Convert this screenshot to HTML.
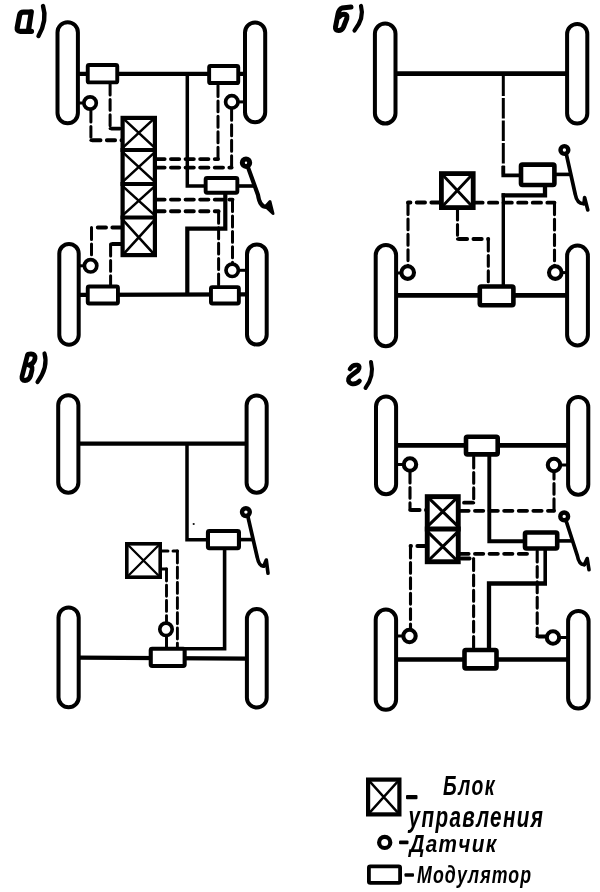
<!DOCTYPE html>
<html><head><meta charset="utf-8"><title>ABS schemes</title>
<style>
html,body{margin:0;padding:0;background:#fff;}
body{width:600px;height:892px;overflow:hidden;font-family:"Liberation Sans",sans-serif;}
svg{display:block;}
text{font-family:"Liberation Sans",sans-serif;font-weight:bold;font-style:italic;fill:#000;}
</style></head><body>
<svg width="600" height="892" viewBox="0 0 600 892">
<defs><filter id="soft" x="0" y="0" width="600" height="892" filterUnits="userSpaceOnUse"><feGaussianBlur stdDeviation="0.45"/></filter></defs>
<rect width="600" height="892" fill="#fff"/>
<g filter="url(#soft)">
<!-- scheme a -->
<path d="M78.00,73.80 L245.00,73.80" fill="none" stroke="#000" stroke-width="4.3" stroke-linejoin="miter" stroke-linecap="butt"/>
<path d="M79.00,294.80 L247.00,294.40" fill="none" stroke="#000" stroke-width="4.3" stroke-linejoin="miter" stroke-linecap="butt"/>
<path d="M187.30,74.00 L187.30,186.00 L206.00,186.00" fill="none" stroke="#000" stroke-width="3.5" stroke-linejoin="miter" stroke-linecap="butt"/>
<path d="M187.30,295.00 L187.30,228.70 L225.30,228.70 L225.30,193.00" fill="none" stroke="#000" stroke-width="4.2" stroke-linejoin="miter" stroke-linecap="butt"/>
<path d="M78.00,103.00 L85.00,103.00" fill="none" stroke="#000" stroke-width="3.0" stroke-linejoin="miter" stroke-linecap="butt"/>
<path d="M79.00,265.80 L85.00,265.80" fill="none" stroke="#000" stroke-width="3.0" stroke-linejoin="miter" stroke-linecap="butt"/>
<path d="M237.00,101.90 L245.00,101.90" fill="none" stroke="#000" stroke-width="3.0" stroke-linejoin="miter" stroke-linecap="butt"/>
<path d="M238.00,270.30 L247.00,270.30" fill="none" stroke="#000" stroke-width="3.0" stroke-linejoin="miter" stroke-linecap="butt"/>
<path d="M90.90,110.00 L90.90,140.30" fill="none" stroke="#000" stroke-width="3.0" stroke-linecap="round" stroke-dasharray="10.90 4.50" stroke-dashoffset="-1.05"/>
<path d="M90.90,140.30 L122.00,140.30" fill="none" stroke="#000" stroke-width="3.9" stroke-linecap="round" stroke-dasharray="8.27 6.33" stroke-dashoffset="-1.36"/>
<circle cx="90.90" cy="140.30" r="1.50" fill="#000"/>
<path d="M110.10,83.00 L110.10,128.60" fill="none" stroke="#000" stroke-width="3.0" stroke-linecap="round" stroke-dasharray="10.90 4.50" stroke-dashoffset="-1.05"/>
<path d="M110.10,128.60 L122.00,128.60" fill="none" stroke="#000" stroke-width="3.9" stroke-linecap="round" stroke-dasharray="8.27 6.33" stroke-dashoffset="-1.36"/>
<circle cx="110.10" cy="128.60" r="1.50" fill="#000"/>
<path d="M155.00,159.10 L218.00,159.10" fill="none" stroke="#000" stroke-width="3.9" stroke-linecap="round" stroke-dasharray="8.27 6.33" stroke-dashoffset="-1.36"/>
<path d="M218.00,159.10 L218.00,84.00" fill="none" stroke="#000" stroke-width="3.0" stroke-linecap="round" stroke-dasharray="10.90 4.50" stroke-dashoffset="-1.05"/>
<circle cx="218.00" cy="159.10" r="1.50" fill="#000"/>
<path d="M155.00,167.60 L231.60,167.60" fill="none" stroke="#000" stroke-width="3.9" stroke-linecap="round" stroke-dasharray="8.27 6.33" stroke-dashoffset="-1.36"/>
<path d="M231.60,167.60 L231.60,109.00" fill="none" stroke="#000" stroke-width="3.0" stroke-linecap="round" stroke-dasharray="10.90 4.50" stroke-dashoffset="-1.05"/>
<circle cx="231.60" cy="167.60" r="1.50" fill="#000"/>
<path d="M155.00,199.60 L232.50,199.60" fill="none" stroke="#000" stroke-width="3.9" stroke-linecap="round" stroke-dasharray="8.27 6.33" stroke-dashoffset="-1.36"/>
<path d="M232.50,199.60 L232.50,263.00" fill="none" stroke="#000" stroke-width="3.0" stroke-linecap="round" stroke-dasharray="10.90 4.50" stroke-dashoffset="-1.05"/>
<circle cx="232.50" cy="199.60" r="1.50" fill="#000"/>
<path d="M155.00,211.30 L218.60,211.30" fill="none" stroke="#000" stroke-width="3.9" stroke-linecap="round" stroke-dasharray="8.27 6.33" stroke-dashoffset="-1.36"/>
<path d="M218.60,211.30 L218.60,287.00" fill="none" stroke="#000" stroke-width="3.0" stroke-linecap="round" stroke-dasharray="10.90 4.50" stroke-dashoffset="-1.05"/>
<circle cx="218.60" cy="211.30" r="1.50" fill="#000"/>
<path d="M122.00,227.50 L91.50,227.50" fill="none" stroke="#000" stroke-width="3.9" stroke-linecap="round" stroke-dasharray="8.27 6.33" stroke-dashoffset="-1.36"/>
<path d="M91.50,227.50 L91.50,259.00" fill="none" stroke="#000" stroke-width="3.0" stroke-linecap="round" stroke-dasharray="10.90 4.50" stroke-dashoffset="-1.05"/>
<circle cx="91.50" cy="227.50" r="1.50" fill="#000"/>
<path d="M122.00,244.00 L110.60,244.00" fill="none" stroke="#000" stroke-width="3.9" stroke-linecap="round" stroke-dasharray="8.27 6.33" stroke-dashoffset="-1.36"/>
<path d="M110.60,244.00 L110.60,286.00" fill="none" stroke="#000" stroke-width="3.0" stroke-linecap="round" stroke-dasharray="10.90 4.50" stroke-dashoffset="-1.05"/>
<circle cx="110.60" cy="244.00" r="1.50" fill="#000"/>
<rect x="57.50" y="22.20" width="20.40" height="101.10" rx="10.20" ry="10.20" fill="#fff" stroke="#000" stroke-width="4.0"/>
<rect x="245.00" y="22.50" width="20.20" height="99.80" rx="10.10" ry="10.10" fill="#fff" stroke="#000" stroke-width="4.0"/>
<rect x="59.30" y="243.90" width="19.40" height="100.90" rx="9.70" ry="9.70" fill="#fff" stroke="#000" stroke-width="4.0"/>
<rect x="247.00" y="244.40" width="19.70" height="100.20" rx="9.85" ry="9.85" fill="#fff" stroke="#000" stroke-width="4.0"/>
<rect x="87.75" y="64.95" width="29.50" height="17.40" rx="1.4" fill="#fff" stroke="#000" stroke-width="3.9"/>
<rect x="209.15" y="65.95" width="29.10" height="17.10" rx="1.4" fill="#fff" stroke="#000" stroke-width="3.9"/>
<rect x="87.75" y="286.55" width="30.20" height="16.90" rx="1.4" fill="#fff" stroke="#000" stroke-width="3.9"/>
<rect x="210.95" y="287.15" width="27.90" height="16.30" rx="1.4" fill="#fff" stroke="#000" stroke-width="3.9"/>
<rect x="205.65" y="177.95" width="31.70" height="14.80" rx="1.4" fill="#fff" stroke="#000" stroke-width="3.9"/>
<circle cx="90.1" cy="103" r="6.2" fill="#fff" stroke="#000" stroke-width="3.7"/>
<circle cx="231.8" cy="101.9" r="6.2" fill="#fff" stroke="#000" stroke-width="3.7"/>
<circle cx="90.6" cy="265.8" r="6.2" fill="#fff" stroke="#000" stroke-width="3.7"/>
<circle cx="232.2" cy="270.3" r="6.2" fill="#fff" stroke="#000" stroke-width="3.7"/>
<rect x="122.60" y="117.90" width="32.30" height="137.20" fill="#fff" stroke="#000" stroke-width="4.2"/>
<line x1="120.5" y1="150" x2="157" y2="150" stroke="#000" stroke-width="4.2"/>
<line x1="120.5" y1="184" x2="157" y2="184" stroke="#000" stroke-width="4.2"/>
<line x1="120.5" y1="217.5" x2="157" y2="217.5" stroke="#000" stroke-width="4.2"/>
<path d="M122.60,117.90 L154.90,147.90 M154.90,117.90 L122.60,147.90" stroke="#000" stroke-width="2.6" fill="none"/>
<path d="M122.60,152.10 L154.90,181.90 M154.90,152.10 L122.60,181.90" stroke="#000" stroke-width="2.6" fill="none"/>
<path d="M122.60,186.10 L154.90,215.40 M154.90,186.10 L122.60,215.40" stroke="#000" stroke-width="2.6" fill="none"/>
<path d="M122.60,219.60 L154.90,255.10 M154.90,219.60 L122.60,255.10" stroke="#000" stroke-width="2.6" fill="none"/>
<path d="M248.20,167.90 L258.00,195.00 Q259.80,207.50 267.00,207.00" fill="none" stroke="#000" stroke-width="4.2" stroke-linecap="round" stroke-linejoin="round"/>
<path d="M265.50,206.50 L270.00,201.50 L273.00,213.50 Z" fill="#000" stroke="#000" stroke-width="3" stroke-linejoin="round"/>
<circle cx="246" cy="162.7" r="3.7" fill="#fff" stroke="#000" stroke-width="5.0"/>
<line x1="239" y1="186" x2="254.75" y2="186" stroke="#000" stroke-width="3.6"/>
<!-- scheme b -->
<path d="M396.00,73.70 L567.00,73.70" fill="none" stroke="#000" stroke-width="4.8" stroke-linejoin="miter" stroke-linecap="butt"/>
<path d="M396.00,295.30 L567.00,295.30" fill="none" stroke="#000" stroke-width="4.7" stroke-linejoin="miter" stroke-linecap="butt"/>
<path d="M503.30,75.40 L503.30,174.50" fill="none" stroke="#000" stroke-width="3.0" stroke-linejoin="miter" stroke-linecap="butt" stroke-dasharray="20.7 1.8"/>
<path d="M503.30,166.00 L503.30,175.30 L520.00,175.30" fill="none" stroke="#000" stroke-width="3.8" stroke-linejoin="miter" stroke-linecap="butt"/>
<path d="M545.00,185.00 L545.00,195.30 L501.60,195.30" fill="none" stroke="#000" stroke-width="4.3" stroke-linejoin="miter" stroke-linecap="butt"/>
<path d="M503.30,193.20 L503.30,286.00" fill="none" stroke="#000" stroke-width="3.4" stroke-linejoin="miter" stroke-linecap="butt"/>
<path d="M396.00,273.00 L401.00,273.00" fill="none" stroke="#000" stroke-width="3.0" stroke-linejoin="miter" stroke-linecap="butt"/>
<path d="M561.00,272.60 L567.00,272.60" fill="none" stroke="#000" stroke-width="3.0" stroke-linejoin="miter" stroke-linecap="butt"/>
<path d="M441.00,202.50 L408.00,202.50" fill="none" stroke="#000" stroke-width="3.8" stroke-linecap="round" stroke-dasharray="8.34 6.26" stroke-dashoffset="-1.33"/>
<path d="M408.00,202.50 L408.00,266.00" fill="none" stroke="#000" stroke-width="3.1" stroke-linecap="round" stroke-dasharray="10.83 4.57" stroke-dashoffset="-1.08"/>
<circle cx="408.00" cy="202.50" r="1.55" fill="#000"/>
<path d="M473.00,202.70 L554.50,202.70" fill="none" stroke="#000" stroke-width="3.8" stroke-linecap="round" stroke-dasharray="8.34 6.26" stroke-dashoffset="-1.33"/>
<path d="M554.50,202.70 L554.50,266.00" fill="none" stroke="#000" stroke-width="3.1" stroke-linecap="round" stroke-dasharray="10.83 4.57" stroke-dashoffset="-1.08"/>
<circle cx="554.50" cy="202.70" r="1.55" fill="#000"/>
<path d="M457.50,208.00 L457.50,239.00" fill="none" stroke="#000" stroke-width="3.1" stroke-linecap="round" stroke-dasharray="10.83 4.57" stroke-dashoffset="-1.08"/>
<path d="M457.50,239.00 L488.30,239.00" fill="none" stroke="#000" stroke-width="3.8" stroke-linecap="round" stroke-dasharray="8.34 6.26" stroke-dashoffset="-1.33"/>
<path d="M488.30,239.00 L488.30,286.00" fill="none" stroke="#000" stroke-width="3.1" stroke-linecap="round" stroke-dasharray="10.83 4.57" stroke-dashoffset="-1.08"/>
<circle cx="457.50" cy="239.00" r="1.55" fill="#000"/>
<circle cx="488.30" cy="239.00" r="1.55" fill="#000"/>
<rect x="374.90" y="23.50" width="20.60" height="100.00" rx="10.30" ry="10.30" fill="#fff" stroke="#000" stroke-width="4.0"/>
<rect x="567.10" y="23.90" width="20.20" height="99.60" rx="10.10" ry="10.10" fill="#fff" stroke="#000" stroke-width="4.0"/>
<rect x="375.70" y="245.00" width="20.40" height="101.20" rx="10.20" ry="10.20" fill="#fff" stroke="#000" stroke-width="4.0"/>
<rect x="567.10" y="245.50" width="20.80" height="100.00" rx="10.40" ry="10.40" fill="#fff" stroke="#000" stroke-width="4.0"/>
<rect x="521.00" y="164.60" width="33.40" height="20.40" rx="1.4" fill="#fff" stroke="#000" stroke-width="4.6"/>
<rect x="479.80" y="286.50" width="33.60" height="18.70" rx="1.4" fill="#fff" stroke="#000" stroke-width="4.6"/>
<circle cx="407.7" cy="272.6" r="6.3" fill="#fff" stroke="#000" stroke-width="4.1"/>
<circle cx="555.3" cy="272.6" r="6.3" fill="#fff" stroke="#000" stroke-width="4.1"/>
<rect x="441.40" y="173.60" width="31.80" height="34.00" fill="#fff" stroke="#000" stroke-width="4.8"/>
<path d="M441.40,173.60 L473.20,207.60 M473.20,173.60 L441.40,207.60" stroke="#000" stroke-width="2.9" fill="none"/>
<path d="M566.60,155.40 L575.30,194.50 Q577.10,204.10 584.00,203.60" fill="none" stroke="#000" stroke-width="3.7" stroke-linecap="round" stroke-linejoin="round"/>
<path d="M584.00,203.60 L584.60,197.50 L587.80,210.00" fill="none" stroke="#000" stroke-width="3.6" stroke-linejoin="round" stroke-linecap="round"/>
<path d="M584.00,203.60 L584.60,197.50 L586.20,203.75 Z" fill="#000" stroke="none"/>
<circle cx="564.4" cy="150" r="3.9" fill="#fff" stroke="#000" stroke-width="4.4"/>
<line x1="556" y1="174.4" x2="570.83" y2="174.4" stroke="#000" stroke-width="3.6"/>
<!-- scheme v -->
<path d="M79.00,443.60 L247.00,443.60" fill="none" stroke="#000" stroke-width="4.4" stroke-linejoin="miter" stroke-linecap="butt"/>
<path d="M79.00,657.60 L247.00,658.60" fill="none" stroke="#000" stroke-width="4.2" stroke-linejoin="miter" stroke-linecap="butt"/>
<path d="M187.00,443.00 L187.00,539.70 L207.00,539.70" fill="none" stroke="#000" stroke-width="3.5" stroke-linejoin="miter" stroke-linecap="butt"/>
<path d="M224.60,549.00 L224.60,648.70 L185.00,648.70" fill="none" stroke="#000" stroke-width="3.6" stroke-linejoin="miter" stroke-linecap="butt"/>
<path d="M166.50,636.00 L166.50,648.00" fill="none" stroke="#000" stroke-width="3.0" stroke-linejoin="miter" stroke-linecap="butt"/>
<path d="M160.00,551.00 L177.40,551.00" fill="none" stroke="#000" stroke-width="3.0" stroke-linecap="round" stroke-dasharray="6.90 5.10" stroke-dashoffset="-1.05"/>
<path d="M177.40,551.00 L177.40,648.00" fill="none" stroke="#000" stroke-width="2.9" stroke-linecap="round" stroke-dasharray="10.97 4.23" stroke-dashoffset="-1.01"/>
<circle cx="177.40" cy="551.00" r="1.45" fill="#000"/>
<path d="M160.00,569.00 L166.50,569.00" fill="none" stroke="#000" stroke-width="3.0" stroke-linecap="round" stroke-dasharray="6.90 5.10" stroke-dashoffset="-1.05"/>
<path d="M166.50,569.00 L166.50,622.00" fill="none" stroke="#000" stroke-width="2.9" stroke-linecap="round" stroke-dasharray="10.97 4.23" stroke-dashoffset="-1.01"/>
<circle cx="166.50" cy="569.00" r="1.45" fill="#000"/>
<rect x="58.20" y="395.20" width="20.20" height="97.50" rx="10.10" ry="10.10" fill="#fff" stroke="#000" stroke-width="4.0"/>
<rect x="246.60" y="395.50" width="20.10" height="97.20" rx="10.05" ry="10.05" fill="#fff" stroke="#000" stroke-width="4.0"/>
<rect x="58.50" y="607.50" width="20.20" height="99.80" rx="10.10" ry="10.10" fill="#fff" stroke="#000" stroke-width="4.0"/>
<rect x="246.90" y="608.90" width="19.80" height="98.70" rx="9.90" ry="9.90" fill="#fff" stroke="#000" stroke-width="4.0"/>
<rect x="207.95" y="531.05" width="31.00" height="17.20" rx="1.4" fill="#fff" stroke="#000" stroke-width="4.1"/>
<rect x="150.75" y="648.75" width="33.90" height="17.20" rx="1.4" fill="#fff" stroke="#000" stroke-width="4.1"/>
<circle cx="166" cy="629.3" r="6.2" fill="#fff" stroke="#000" stroke-width="3.7"/>
<rect x="126.80" y="543.80" width="33.40" height="33.40" fill="#fff" stroke="#000" stroke-width="3.6"/>
<path d="M126.80,543.80 L160.20,577.20 M160.20,543.80 L126.80,577.20" stroke="#000" stroke-width="2.3" fill="none"/>
<path d="M248.10,517.50 L257.30,557.50 Q259.10,566.50 263.80,566.00" fill="none" stroke="#000" stroke-width="3.7" stroke-linecap="round" stroke-linejoin="round"/>
<path d="M263.80,566.00 L266.30,560.00 L268.00,573.20" fill="none" stroke="#000" stroke-width="3.6" stroke-linejoin="round" stroke-linecap="round"/>
<path d="M263.80,566.00 L266.30,560.00 L267.15,566.60 Z" fill="#000" stroke="none"/>
<circle cx="245.9" cy="512.1" r="3.9" fill="#fff" stroke="#000" stroke-width="4.4"/>
<line x1="240" y1="539.6" x2="253.18" y2="539.6" stroke="#000" stroke-width="3.6"/>
<circle cx="193.7" cy="524" r="1.1" fill="#111"/>
<!-- scheme g -->
<path d="M396.00,445.40 L568.00,445.40" fill="none" stroke="#000" stroke-width="4.6" stroke-linejoin="miter" stroke-linecap="butt"/>
<path d="M396.00,659.60 L568.00,659.60" fill="none" stroke="#000" stroke-width="4.5" stroke-linejoin="miter" stroke-linecap="butt"/>
<path d="M489.30,455.00 L489.30,541.20 L525.00,541.20" fill="none" stroke="#000" stroke-width="3.9" stroke-linejoin="miter" stroke-linecap="butt"/>
<path d="M545.20,550.00 L545.20,583.50" fill="none" stroke="#000" stroke-width="3.6" stroke-linejoin="miter" stroke-linecap="butt"/>
<path d="M547.00,583.50 L489.00,583.50 L489.00,650.00" fill="none" stroke="#000" stroke-width="4.3" stroke-linejoin="miter" stroke-linecap="butt"/>
<path d="M396.00,464.50 L404.00,464.50" fill="none" stroke="#000" stroke-width="3.0" stroke-linejoin="miter" stroke-linecap="butt"/>
<path d="M396.00,636.00 L404.00,636.00" fill="none" stroke="#000" stroke-width="3.0" stroke-linejoin="miter" stroke-linecap="butt"/>
<path d="M560.00,465.00 L568.00,465.00" fill="none" stroke="#000" stroke-width="3.0" stroke-linejoin="miter" stroke-linecap="butt"/>
<path d="M559.00,637.50 L568.00,637.50" fill="none" stroke="#000" stroke-width="3.0" stroke-linejoin="miter" stroke-linecap="butt"/>
<path d="M410.00,471.00 L410.00,510.00" fill="none" stroke="#000" stroke-width="3.1" stroke-linecap="round" stroke-dasharray="10.83 4.57" stroke-dashoffset="-1.08"/>
<path d="M410.00,510.00 L427.00,510.00" fill="none" stroke="#000" stroke-width="3.8" stroke-linecap="round" stroke-dasharray="8.34 6.26" stroke-dashoffset="-1.33"/>
<circle cx="410.00" cy="510.00" r="1.55" fill="#000"/>
<path d="M473.70,456.00 L473.70,502.70" fill="none" stroke="#000" stroke-width="3.1" stroke-linecap="round" stroke-dasharray="10.83 4.57" stroke-dashoffset="-1.08"/>
<path d="M473.70,502.70 L459.00,502.70" fill="none" stroke="#000" stroke-width="3.8" stroke-linecap="round" stroke-dasharray="8.34 6.26" stroke-dashoffset="-1.33"/>
<circle cx="473.70" cy="502.70" r="1.55" fill="#000"/>
<path d="M459.00,510.80 L554.00,510.80" fill="none" stroke="#000" stroke-width="3.8" stroke-linecap="round" stroke-dasharray="8.34 6.26" stroke-dashoffset="-1.33"/>
<path d="M554.00,510.80 L554.00,471.00" fill="none" stroke="#000" stroke-width="3.1" stroke-linecap="round" stroke-dasharray="10.83 4.57" stroke-dashoffset="-1.08"/>
<circle cx="554.00" cy="510.80" r="1.55" fill="#000"/>
<path d="M459.00,553.80 L530.00,553.80" fill="none" stroke="#000" stroke-width="3.8" stroke-linecap="round" stroke-dasharray="8.34 6.26" stroke-dashoffset="-1.33"/>
<path d="M460.00,558.50 L473.60,558.50" fill="none" stroke="#000" stroke-width="3.8" stroke-linecap="round" stroke-dasharray="8.34 6.26" stroke-dashoffset="-1.33"/>
<path d="M473.60,558.50 L473.60,650.00" fill="none" stroke="#000" stroke-width="3.1" stroke-linecap="round" stroke-dasharray="10.83 4.57" stroke-dashoffset="-1.08"/>
<circle cx="473.60" cy="558.50" r="1.55" fill="#000"/>
<path d="M427.00,546.00 L410.50,546.00" fill="none" stroke="#000" stroke-width="3.8" stroke-linecap="round" stroke-dasharray="8.34 6.26" stroke-dashoffset="-1.33"/>
<path d="M410.50,546.00 L410.50,630.00" fill="none" stroke="#000" stroke-width="3.1" stroke-linecap="round" stroke-dasharray="10.83 4.57" stroke-dashoffset="-1.08"/>
<circle cx="410.50" cy="546.00" r="1.55" fill="#000"/>
<path d="M537.20,550.00 L537.20,636.50" fill="none" stroke="#000" stroke-width="3.1" stroke-linecap="round" stroke-dasharray="10.83 4.57" stroke-dashoffset="-1.08"/>
<path d="M537.20,636.50 L547.00,636.50" fill="none" stroke="#000" stroke-width="3.8" stroke-linecap="round" stroke-dasharray="8.34 6.26" stroke-dashoffset="-1.33"/>
<circle cx="537.20" cy="636.50" r="1.55" fill="#000"/>
<rect x="376.00" y="396.50" width="20.10" height="97.70" rx="10.05" ry="10.05" fill="#fff" stroke="#000" stroke-width="4.0"/>
<rect x="568.10" y="397.00" width="20.20" height="97.70" rx="10.10" ry="10.10" fill="#fff" stroke="#000" stroke-width="4.0"/>
<rect x="375.70" y="609.50" width="20.40" height="100.30" rx="10.20" ry="10.20" fill="#fff" stroke="#000" stroke-width="4.0"/>
<rect x="568.10" y="610.90" width="20.50" height="97.70" rx="10.25" ry="10.25" fill="#fff" stroke="#000" stroke-width="4.0"/>
<rect x="466.00" y="436.70" width="31.70" height="17.70" rx="1.4" fill="#fff" stroke="#000" stroke-width="4.6"/>
<rect x="525.00" y="532.50" width="32.20" height="16.00" rx="1.4" fill="#fff" stroke="#000" stroke-width="4.6"/>
<rect x="464.50" y="650.00" width="32.00" height="18.40" rx="1.4" fill="#fff" stroke="#000" stroke-width="4.6"/>
<circle cx="410" cy="464.5" r="6.2" fill="#fff" stroke="#000" stroke-width="4.1"/>
<circle cx="554" cy="465" r="6.2" fill="#fff" stroke="#000" stroke-width="4.1"/>
<circle cx="409.5" cy="636" r="6.2" fill="#fff" stroke="#000" stroke-width="4.1"/>
<circle cx="553" cy="637.5" r="6.2" fill="#fff" stroke="#000" stroke-width="4.1"/>
<rect x="427.25" y="496.65" width="31.00" height="65.10" fill="#fff" stroke="#000" stroke-width="4.9"/>
<line x1="424.8" y1="529" x2="460.7" y2="529" stroke="#000" stroke-width="4.9"/>
<path d="M427.25,496.65 L458.25,526.55 M458.25,496.65 L427.25,526.55" stroke="#000" stroke-width="3.1" fill="none"/>
<path d="M427.25,531.45 L458.25,561.75 M458.25,531.45 L427.25,561.75" stroke="#000" stroke-width="3.1" fill="none"/>
<path d="M566.40,521.80 L577.30,555.50 Q579.10,565.10 584.40,564.60" fill="none" stroke="#000" stroke-width="3.7" stroke-linecap="round" stroke-linejoin="round"/>
<path d="M584.40,564.60 L587.20,558.50 L589.00,569.70" fill="none" stroke="#000" stroke-width="3.6" stroke-linejoin="round" stroke-linecap="round"/>
<path d="M584.40,564.60 L587.20,558.50 L588.10,564.10 Z" fill="#000" stroke="none"/>
<circle cx="564.2" cy="516.4" r="3.9" fill="#fff" stroke="#000" stroke-width="4.4"/>
<line x1="559" y1="540.9" x2="572.58" y2="540.9" stroke="#000" stroke-width="3.6"/>
<!-- legend -->
<rect x="368.10" y="779.60" width="31.30" height="34.80" fill="#fff" stroke="#000" stroke-width="4.2"/>
<path d="M368.10,779.60 L399.40,814.40 M399.40,779.60 L368.10,814.40" stroke="#000" stroke-width="2.4" fill="none"/>
<rect x="406" y="795" width="11.5" height="4.2" rx="1" fill="#000"/>
<circle cx="384.7" cy="842.4" r="5.6" fill="#fff" stroke="#000" stroke-width="4.2"/>
<rect x="399" y="840.5" width="9.5" height="3.8" rx="1" fill="#000"/>
<rect x="368.90" y="866.40" width="31.20" height="16.40" rx="1.4" fill="#fff" stroke="#000" stroke-width="3.8"/>
<rect x="404.5" y="873.2" width="9.5" height="3.6" rx="1" fill="#000"/>
<!-- section labels -->
<g fill="none" stroke="#000" stroke-width="5.2" stroke-linecap="round" stroke-linejoin="round">
<!-- a) -->
<path d="M30,12.2 L23.5,12.2 Q20.3,12.2 19.6,15.2 L17.2,27.8 Q16.7,31.3 20.2,31.3 L27,31.3"/>
<path d="M31.3,11.8 L28.3,31.3 L31.5,31.3"/>
<path d="M43,6 Q47.5,20 38.5,36" stroke-width="4.4"/>
<!-- б) -->
<path d="M351,7 L342,8 Q339,9 338,14 L335.5,27 Q335,30.500 338.500,30.500 Q342,30.500 343.500,27 L346.800,18.500 Q347.800,14.300 344,14.300 Q341,14.300 339,17" stroke-width="5"/>
<path d="M361,6 Q364.500,18 354.500,30.500" stroke-width="4.200"/>
<!-- в) -->
<path d="M27.5,355 L22,376.5 Q21.5,380.5 25,380.5 Q29,380.5 30.5,376 L32,370 Q33,365.5 28.500,365 Q34,364 35,358.500 Q35.500,354 31,354 Q28,354 27.500,355 Z" stroke-width="4.800"/>
<path d="M44.500,353.500 Q48.500,367 37.500,382" stroke-width="4.200"/>
<!-- г) -->
<path d="M350,369 Q352.500,364.500 357,365 Q361,366 358,370.500 Q353,374 349.500,377 Q346.500,381 351,383.500 Q356,385 359.500,381" stroke-width="4.600"/>
<path d="M371,362 Q374.500,376 365.500,388" stroke-width="4"/>
</g>
<!-- legend text -->
<g>
<text transform="translate(443,795) scale(0.68,1)" font-size="28.5" letter-spacing="2">Блок</text>
<text transform="translate(408.5,827) scale(0.70,1)" font-size="29.5" letter-spacing="2">управления</text>
<text transform="translate(409.5,852) scale(0.865,1)" font-size="24" letter-spacing="1.5">Датчик</text>
<text transform="translate(417,882.6) scale(0.755,1)" font-size="23.5" letter-spacing="1.5">Модулятор</text>
</g>

</g>
</svg>
</body></html>
